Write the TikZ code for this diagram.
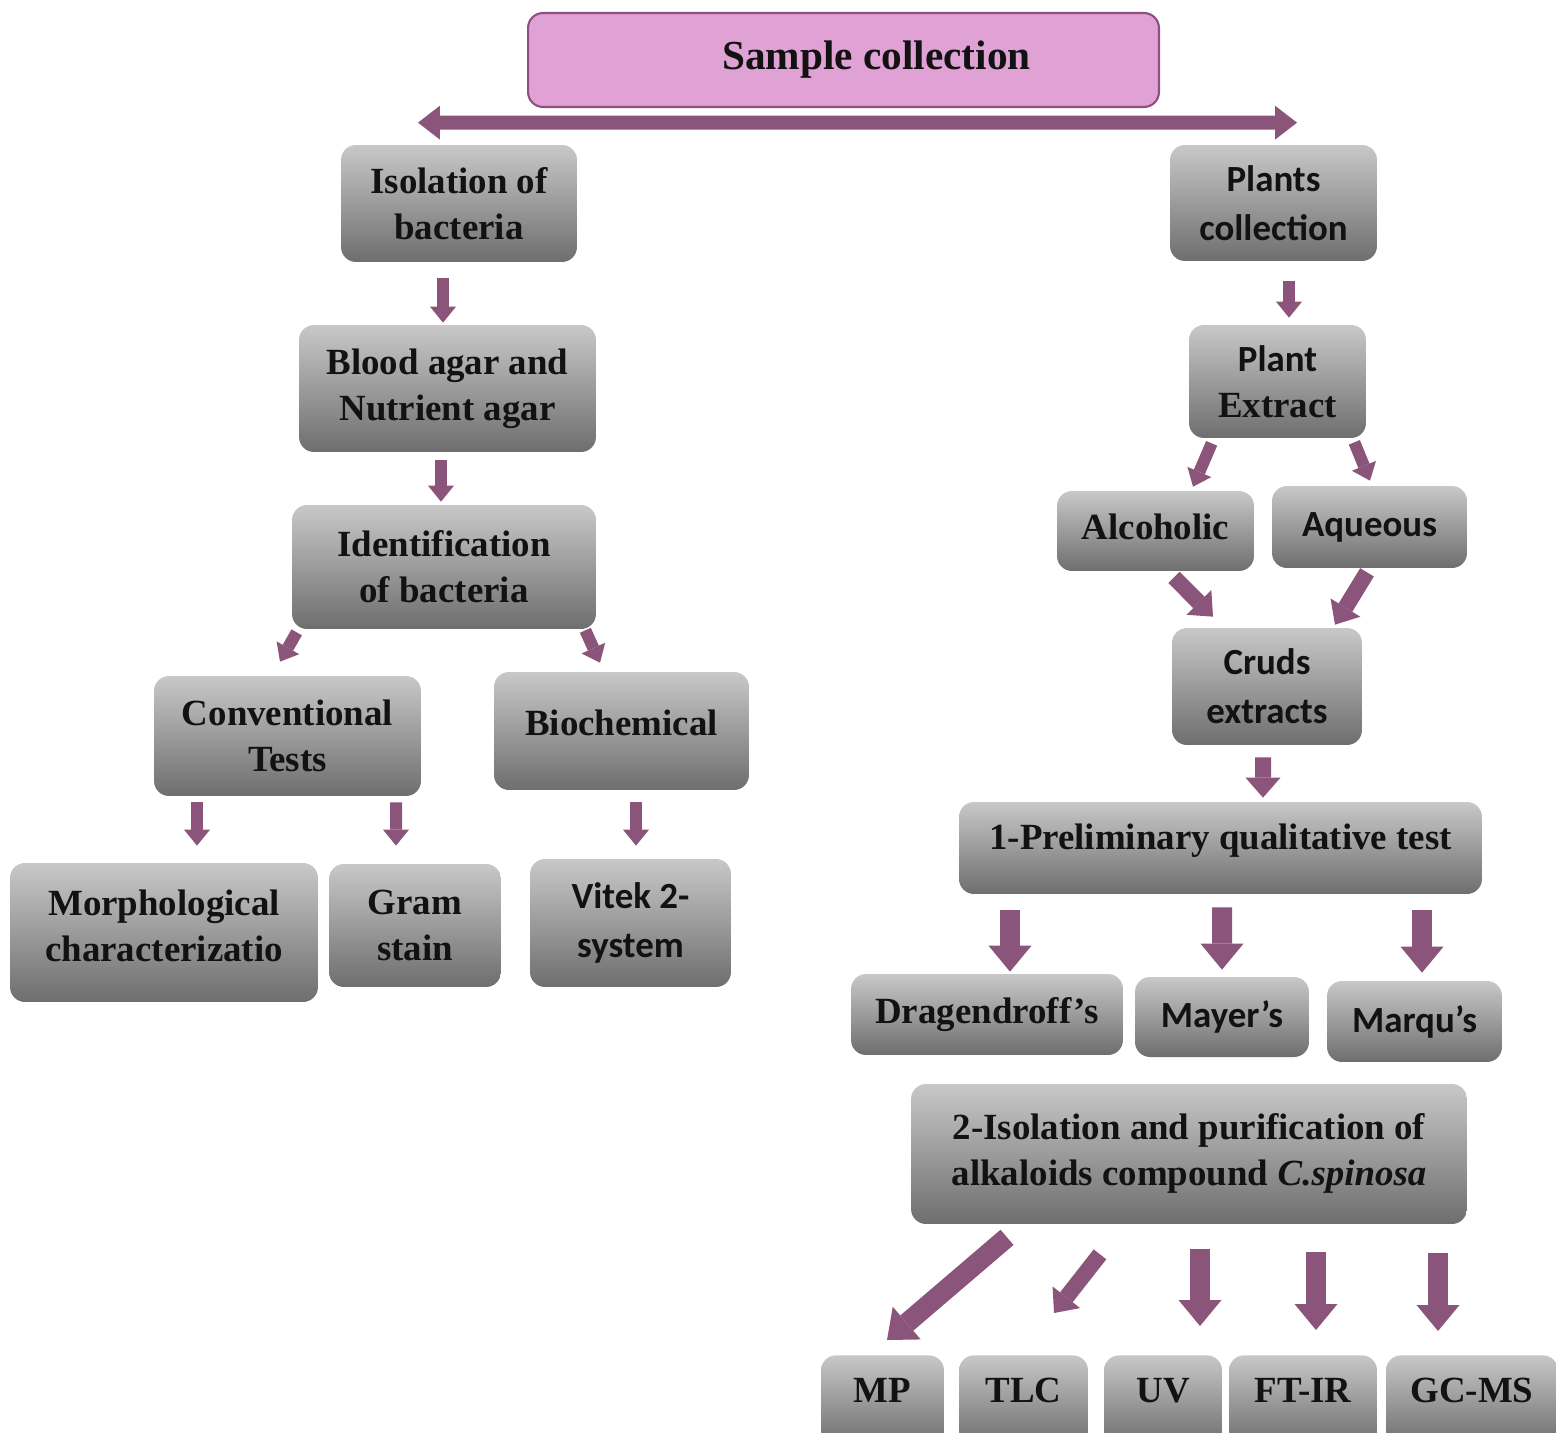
\documentclass[tikz,border=0pt]{standalone}
\usepackage{fontspec}
\setmainfont{Liberation Serif}
\newfontfamily\calibri{Carlito}
\usetikzlibrary{arrows.meta,calc}

\definecolor{arrowpurple}{RGB}{139,84,122}
\definecolor{samplepink}{RGB}{224,162,212}
\definecolor{sampleedge}{RGB}{140,80,130}
\definecolor{boxtop}{RGB}{200,200,200}
\definecolor{boxbottom}{RGB}{110,110,110}

\tikzset{
  graybox/.style={rounded corners=0.3cm, top color=boxtop, bottom color=boxbottom,
    align=center, inner sep=0pt, text=black!93,
    font=\bfseries\fontsize{21}{26}\selectfont},
  calbox/.style={graybox, font=\calibri\bfseries\fontsize{21}{28}\selectfont},
  cutbox/.style={graybox, anchor=north, minimum height=1.8cm, text height=14pt, text depth=11.4pt},
  lift/.style={text depth=#1},
  samplebox/.style={rounded corners=0.3cm, fill=samplepink, draw=sampleedge, line width=1.2pt,
    minimum width=12.62cm, minimum height=1.88cm, text=black!93,
    font=\bfseries\fontsize{23.5}{28}\selectfont},
  smallarrow/.style={draw=arrowpurple, line width=0.24cm,
    -{Triangle[width=0.52cm,length=0.32cm,line width=0pt]}},
  midarrow/.style={draw=arrowpurple, line width=0.32cm,
    -{Triangle[width=0.7cm,length=0.4cm,line width=0pt]}},
  bigarrow/.style={draw=arrowpurple, line width=0.4cm,
    -{Triangle[width=0.86cm,length=0.52cm,line width=0pt]}},
  wideline/.style={draw=arrowpurple, line width=0.28cm,
    {Triangle[width=0.68cm,length=0.44cm,line width=0pt]}-{Triangle[width=0.68cm,length=0.44cm,line width=0pt]}}
}

\begin{document}
\begin{tikzpicture}[x=0.02cm, y=-0.02cm]
  \clip (0,0) rectangle (1556,1433);

  \node[samplebox] (sample) at (843.5,60) {\hspace*{1.32cm}Sample collection};

  % bacteria side
  \node[graybox, minimum width=4.72cm, minimum height=2.34cm] (iso) at (459,203.5) {Isolation of\\bacteria};
  \node[graybox, minimum width=5.94cm, minimum height=2.54cm] (blood) at (447.5,388.5) {Blood agar and\\Nutrient agar};
  \node[graybox, minimum width=6.08cm, minimum height=2.48cm] (ident) at (444,567) {Identification\\of bacteria};
  \node[graybox, minimum width=5.34cm, minimum height=2.40cm] (conv) at (287.5,736) {Conventional\\Tests};
  \node[graybox, lift=10pt, minimum width=5.10cm, minimum height=2.36cm] (bio) at (621.5,731) {Biochemical};
  \node[graybox, lift=8pt, minimum width=6.16cm, minimum height=2.78cm] (morph) at (164,932.5) {Morphological\\characterizatio};
  \node[graybox, minimum width=3.44cm, minimum height=2.46cm] (gram) at (415,925.5) {Gram\\stain};
  \node[calbox, minimum width=4.02cm, minimum height=2.56cm] (vitek) at (630.5,923) {Vitek 2-\\system};

  % plant side
  \node[calbox, minimum width=4.14cm, minimum height=2.32cm] (plants) at (1273.5,203) {Plants\\collection};
  \node[graybox, minimum width=3.54cm, minimum height=2.26cm] (extract) at (1277.5,381.5) {{\calibri Plant}\\Extract};
  \node[graybox, lift=4.5pt, minimum width=3.94cm, minimum height=1.60cm] (alc) at (1155.5,531) {Alcoholic};
  \node[calbox, minimum width=3.90cm, minimum height=1.64cm] (aq) at (1369.5,527) {Aqueous};
  \node[calbox, minimum width=3.80cm, minimum height=2.34cm] (cruds) at (1267,686.5) {Cruds\\extracts};
  \node[graybox, lift=12.6pt, minimum width=10.46cm, minimum height=1.84cm] (prelim) at (1220.5,848) {1-Preliminary qualitative test};
  \node[graybox, minimum width=5.44cm, minimum height=1.62cm] (drag) at (987,1014.5) {Dragendroff’s};
  \node[calbox, minimum width=3.48cm, minimum height=1.60cm] (mayer) at (1222,1017) {Mayer’s};
  \node[calbox, minimum width=3.50cm, minimum height=1.62cm] (marqu) at (1414.5,1021.5) {Marqu’s};
  \node[graybox, lift=5pt, minimum width=11.12cm, minimum height=2.80cm] (iso2) at (1189,1154) {2-Isolation and purification of\\alkaloids compound \textit{C.spinosa}};
  \node[cutbox, minimum width=2.46cm] (mp) at (882.5,1355) {MP};
  \node[cutbox, minimum width=2.58cm] (tlc) at (1023.5,1355) {TLC};
  \node[cutbox, minimum width=2.36cm] (uv) at (1163,1355) {UV};
  \node[cutbox, minimum width=2.96cm] (ftir) at (1303,1355) {FT-IR};
  \node[cutbox, minimum width=3.44cm] (gcms) at (1472,1355) {GC-MS};

  % arrows
  \draw[wideline] ($(iso.north)+(-41,-22)$) -- ($(plants.north)+(23.5,-22)$);

  \draw[smallarrow] ($(iso.south)+(-16,16)$) -- ($(blood.north)+(-4.5,-2)$);
  \draw[smallarrow] ($(blood.south)+(-6.5,8)$) -- ($(ident.north)+(-3,-3)$);
  \draw[smallarrow] ($(ident.south west)+(5,3)$) -- ($(conv.north)+(-7.5,-14)$);
  \draw[smallarrow] ($(ident.south east)+(-11,1)$) -- ($(bio.north)+(-21.5,-9)$);
  \draw[smallarrow] ($(conv.south)+(-90.5,6)$) -- ($(morph.north)+(33,-17)$);
  \draw[smallarrow] ($(conv.south)+(108.5,6)$) -- ($(gram.north)+(-19,-18)$);
  \draw[smallarrow] ($(bio.south)+(14.5,12)$) -- ($(vitek.north)+(5.5,-13)$);

  \draw[smallarrow] ($(plants.south)+(15.5,20)$) -- ($(extract.north)+(11.5,-7)$);
  \draw[smallarrow] ($(extract.south west)+(23,5)$) -- ($(alc.north)+(37.5,-4)$);
  \draw[smallarrow] ($(extract.south east)+(-12,4)$) -- ($(aq.north)+(0.5,-5)$);
  \draw[midarrow] ($(alc.south)+(18.5,6)$) -- ($(cruds.north)+(-54,-11)$);
  \draw[midarrow] ($(aq.south)+(-2.5,4)$) -- ($(cruds.north)+(68,-3)$);
  \draw[midarrow] ($(cruds.south)+(-4,12)$) -- ($(prelim.north)+(42.5,-4)$);
  \draw[bigarrow] ($(prelim.south)+(-210.5,16)$) -- ($(drag.north)+(23,-2)$);
  \draw[bigarrow] ($(prelim.south)+(1.5,13)$) -- ($(mayer.north)+(0,-7)$);
  \draw[bigarrow] ($(prelim.south)+(201.5,16)$) -- ($(marqu.north)+(7.5,-8)$);

  \draw[bigarrow] ($(iso2.south)+(-182,13)$) -- ($(mp.north)+(4.5,-15)$);
  \draw[midarrow] ($(iso2.south)+(-89,30)$) -- ($(tlc.north)+(30.5,-42)$);
  \draw[bigarrow] ($(iso2.south)+(11,25)$) -- ($(uv.north)+(37,-29)$);
  \draw[bigarrow] ($(iso2.south)+(127,28)$) -- ($(ftir.north)+(13,-25)$);
  \draw[bigarrow] ($(iso2.south)+(249,29)$) -- ($(gcms.north)+(-34,-24)$);
\end{tikzpicture}
\end{document}
